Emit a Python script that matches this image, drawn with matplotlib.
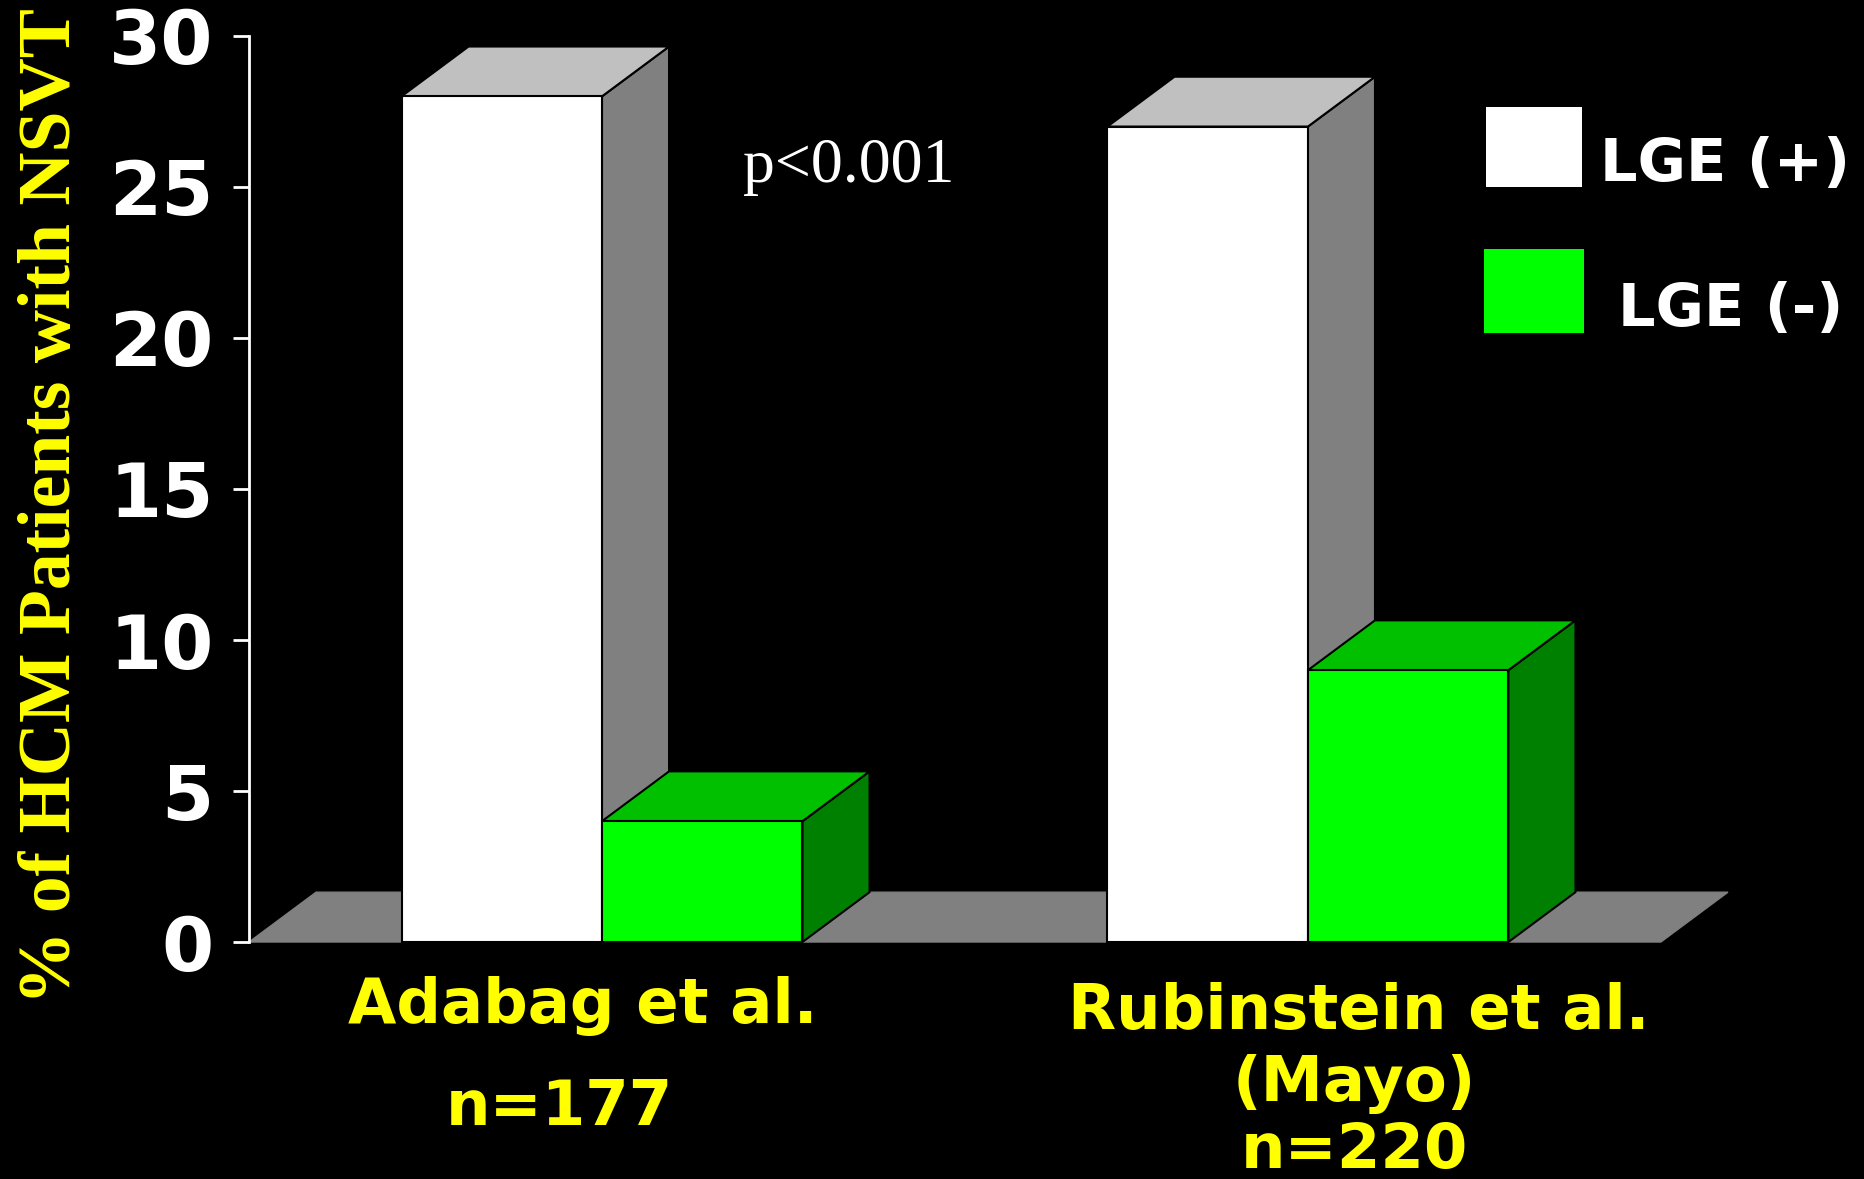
import numpy as np
import matplotlib
matplotlib.use('Agg')
import matplotlib.pyplot as plt
from matplotlib.patches import Polygon, Rectangle
from matplotlib.transforms import blended_transform_factory

# data
study_names = ['Adabag et al.', 'Rubinstein et al.']
study_notes = ['', '(Mayo)']
sample_sizes = ['n=177', 'n=220']
series_names = ['LGE (+)', 'LGE (-)']
lge_pos = [28, 27]
lge_neg = [4, 9]
y_ticks = [0, 5, 10, 15, 20, 25, 30]

# face colours (front, top, side) for each series
face_cols = [('#FFFFFF', '#C0C0C0', '#808080'),
             ('#00FF00', '#00C000', '#008000')]

W = 1864
H = 1179
fig = plt.figure(figsize=(W / 100, H / 100), dpi=100, facecolor='black')
ax = fig.add_axes([0.1336, 0.2010, 0.7953, 0.7685])
ax.set_facecolor('black')

bar_w = 0.284
dx = 0.095   # depth offset in x (category units)
dy = 1.65    # depth offset in y (value units)


def draw_bar(x0, h, cols):
    front, top, side = cols
    kw = dict(edgecolor='black', linewidth=1.5, clip_on=False)
    ax.add_patch(Polygon([(x0 + bar_w, 0), (x0 + bar_w + dx, dy),
                          (x0 + bar_w + dx, h + dy), (x0 + bar_w, h)],
                         facecolor=side, **kw))
    ax.add_patch(Polygon([(x0, h), (x0 + bar_w, h),
                          (x0 + bar_w + dx, h + dy), (x0 + dx, h + dy)],
                         facecolor=top, **kw))
    ax.add_patch(Rectangle((x0, 0), bar_w, h, facecolor=front, **kw))


# floor
n = len(study_names)
ax.add_patch(Polygon([(-0.5, 0), (n - 0.5, 0), (n - 0.5 + dx, dy), (-0.5 + dx, dy)],
                     facecolor='#808080', edgecolor='#808080', clip_on=False))

x = np.arange(n)
for i in range(n):
    draw_bar(x[i] - bar_w, lge_pos[i], face_cols[0])
    draw_bar(x[i], lge_neg[i], face_cols[1])

ax.set_xlim(-0.5, 1.6)
ax.set_ylim(0, 30)
for s in ['top', 'right', 'bottom']:
    ax.spines[s].set_visible(False)
ax.spines['left'].set_color('white')
ax.spines['left'].set_linewidth(2)
ax.set_xticks([])
ax.set_yticks(y_ticks)
ax.set_yticklabels([str(t) for t in y_ticks], color='white',
                   fontsize=54, fontweight='bold', family='DejaVu Sans')
ax.tick_params(axis='y', colors='white', length=11.5, width=2, pad=14)

# y label
fig.text(70 / W, 1 - 506 / H, '% of HCM Patients with NSVT', rotation=90,
         rotation_mode='anchor', ha='center', va='baseline',
         family='Liberation Serif', fontweight='bold', fontsize=53, color='#FFFF00')

# category labels
tr = blended_transform_factory(ax.transData, fig.transFigure)
lab_kw = dict(ha='center', va='baseline', color='#FFFF00', fontsize=45,
              fontweight='bold', family='DejaVu Sans', transform=tr)
name_shift = [-0.027, 0.072]
n_shift = [-0.061, 0.066]
name_base = [1023, 1029]
note_base = [None, 1101]
n_base = [1125, 1168]
for i in range(n):
    ax.text(x[i] + name_shift[i], 1 - name_base[i] / H, study_names[i], **lab_kw)
    if study_notes[i]:
        ax.text(x[i] + n_shift[i], 1 - note_base[i] / H, study_notes[i], **lab_kw)
    ax.text(x[i] + n_shift[i], 1 - n_base[i] / H, sample_sizes[i], **lab_kw)

# p value
fig.text(743 / W, 1 - 182 / H, 'p<0.001', ha='left', va='baseline',
         family='Liberation Serif', fontsize=46, color='white')

# legend
leg_boxes = [(1486, 107, 96, 80), (1484, 249, 100, 84)]
leg_text = [(1600, 181), (1618, 326)]
for i in range(2):
    bx, by, bw, bh = leg_boxes[i]
    fig.add_artist(Rectangle((bx / W, 1 - (by + bh) / H), bw / W, bh / H,
                             transform=fig.transFigure, facecolor=face_cols[i][0],
                             edgecolor='none'))
    tx, ty = leg_text[i]
    fig.text(tx / W, 1 - ty / H, series_names[i], ha='left', va='baseline',
             color='white', fontsize=42.5, fontweight='bold', family='DejaVu Sans')

fig.savefig('out.png', dpi=100, facecolor='black')
